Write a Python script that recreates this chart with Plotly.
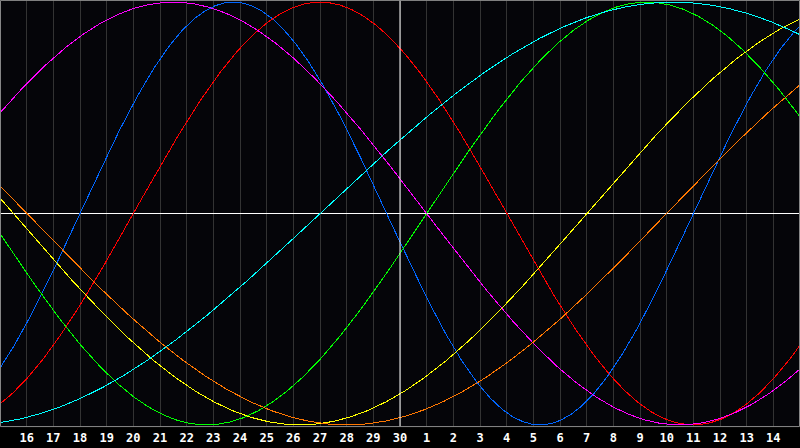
import numpy as np
import plotly.graph_objects as go

# ---- data ----
day_labels = [16, 17, 18, 19, 20, 21, 22, 23, 24, 25, 26, 27, 28, 29, 30,
              1, 2, 3, 4, 5, 6, 7, 8, 9, 10, 11, 12, 13, 14]
today_label = 30
cycle_names = ["Physical", "Emotional", "Intellectual", "Intuitive",
               "Aesthetic", "Awareness", "Spiritual"]
cycle_periods = [23, 28, 33, 38, 43, 48, 53]
cycle_colors = ["#0066ff", "#ff0000", "#00ff00", "#ff00ff",
                "#ffff00", "#ff7700", "#00ffff"]
draw_order = [0, 1, 2, 3, 4, 5, 6]
days_since_birth_at_left = 18167   # day 15 (left edge of chart)
days_shown = 30

# ---- build ----
x_pos = np.linspace(0, days_shown, 601)
tick_pos = list(range(1, len(day_labels) + 1))
today_pos = tick_pos[day_labels.index(today_label)]

fig = go.Figure()
for i in draw_order:
    t = days_since_birth_at_left + x_pos
    y = np.sin(2 * np.pi * t / cycle_periods[i])
    fig.add_trace(go.Scatter(x=x_pos, y=y, mode="lines", name=cycle_names[i],
                             line=dict(color=cycle_colors[i], width=1),
                             hoverinfo="skip"))

fig.add_shape(type="line", xref="x", yref="paper", x0=today_pos, x1=today_pos,
              y0=0, y1=1, line=dict(color="#ffffff", width=1), layer="above")
fig.add_shape(type="rect", xref="paper", yref="paper", x0=0.0006, x1=0.9994,
              y0=0.001, y1=0.999, line=dict(color="#8a8a8a", width=1), layer="above")

fig.update_layout(
    width=800, height=448,
    margin=dict(l=0, r=0, t=0, b=21),
    paper_bgcolor="#000000",
    plot_bgcolor="#050509",
    showlegend=False,
    xaxis=dict(range=[0, days_shown], tickmode="array", tickvals=tick_pos,
               ticktext=[str(v) for v in day_labels], showgrid=True,
               gridcolor="#333333", gridwidth=1, zeroline=False, ticks="",
               tickfont=dict(family="DejaVu Sans Mono", size=12, color="#ffffff",
                             weight="bold"),
               ticklabelstandoff=2,
               showline=False, fixedrange=True),
    yaxis=dict(range=[-1.01, 1.01], showgrid=False, showticklabels=False,
               zeroline=True, zerolinecolor="#ffffff", zerolinewidth=1,
               ticks="", fixedrange=True),
)

fig.write_html("out.html", config={"displayModeBar": False},
               post_script="document.body.style.margin='0';"
                           "document.body.style.overflow='hidden';"
                           "document.body.style.background='#000';"
                           "document.querySelectorAll('.scatterlayer path.js-line')"
                           ".forEach(function(p){p.style.shapeRendering='crispEdges';});")
